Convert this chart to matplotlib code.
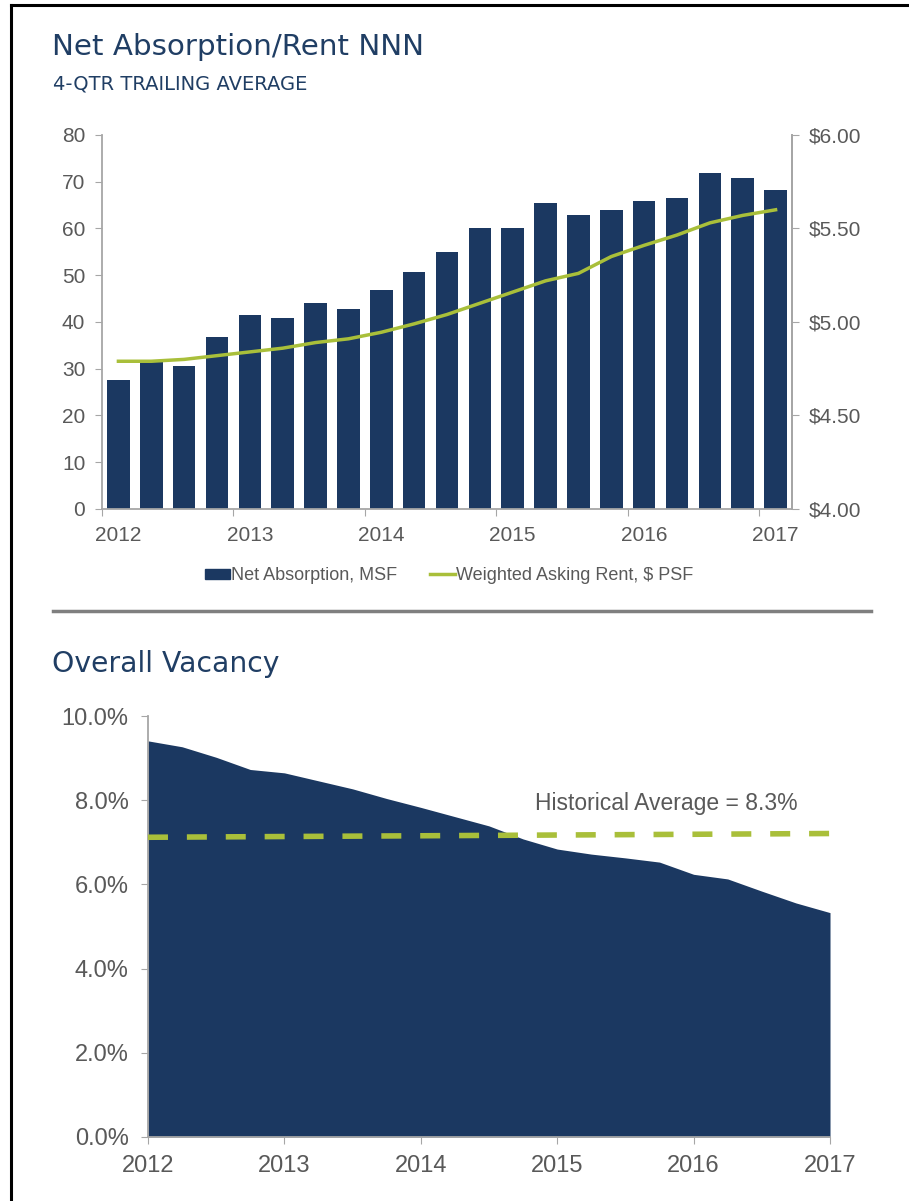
import matplotlib.pyplot as plt
import numpy as np
from matplotlib.patches import Patch
from matplotlib.lines import Line2D

# Net absorption (MSF, 4-qtr trailing avg), quarterly 2012Q1 - 2017Q1
absorption = [27.6, 31.7, 30.6, 36.7, 41.5, 40.9, 44.1, 42.7, 46.8, 50.7, 55.0,
              60.0, 60.2, 65.5, 62.9, 64.0, 65.9, 66.5, 71.8, 70.7, 68.3]
# Weighted asking rent, $ PSF
rent = [4.79, 4.79, 4.80, 4.82, 4.84, 4.86, 4.89, 4.91, 4.945, 4.99, 5.04,
        5.10, 5.16, 5.22, 5.26, 5.35, 5.41, 5.465, 5.53, 5.57, 5.60]
years = ['2012', '2013', '2014', '2015', '2016', '2017']

# Overall vacancy (%), quarterly 2012.0 - 2017.0
vac_x = [2012.0, 2012.25, 2012.5, 2012.75, 2013.0, 2013.25, 2013.5, 2013.75,
         2014.0, 2014.25, 2014.5, 2014.75, 2015.0, 2015.25, 2015.5, 2015.75,
         2016.0, 2016.25, 2016.5, 2016.75, 2017.0]
vacancy = [9.41, 9.27, 9.02, 8.73, 8.65, 8.46, 8.27, 8.04, 7.83, 7.61, 7.39,
           7.08, 6.84, 6.72, 6.63, 6.53, 6.24, 6.13, 5.84, 5.56, 5.33]
hist_x = [2012.0, 2017.05]
hist_y = [7.12, 7.21]

navy = '#1b3861'
lime = '#a9bf3a'
gray = '#595959'
spine_c = '#a6a6a6'
title_c = '#203e64'

fig = plt.figure(figsize=(9.09, 12.01), dpi=100)

# frame lines
fig.add_artist(Line2D([0.0121, 0.0121], [0, 0.9958], color='black', lw=2.2))
fig.add_artist(Line2D([0.0121, 1.0], [0.9958, 0.9958], color='black', lw=2.2))
# separator
fig.add_artist(Line2D([0.058, 0.958], [0.4913, 0.4913], color='#7f7f7f', lw=2.5))

fig.text(0.057, 0.961, 'Net Absorption/Rent NNN', fontsize=21.2, color=title_c,
         family='DejaVu Sans', va='center')
fig.text(0.058, 0.930, '4-QTR TRAILING AVERAGE', fontsize=14, color=title_c,
         family='DejaVu Sans', va='center')
fig.text(0.057, 0.447, 'Overall Vacancy', fontsize=20.3, color=title_c,
         family='DejaVu Sans', va='center')

tick_font = 'Liberation Sans'

# ---- top chart
ax = fig.add_axes([0.1122, 0.5762, 0.7591, 0.3114])
idx = np.arange(len(absorption))
ax.bar(idx, absorption, width=0.69, color=navy, zorder=2)
ax.set_xlim(-0.5, len(absorption) - 0.5)
ax.set_ylim(0, 80)
ax.set_yticks(np.arange(0, 81, 10))
ax.set_xticks(np.arange(-0.5, len(absorption), 4))
ax.set_xticklabels([])
ax.set_xticks(np.arange(0, len(absorption), 4), minor=True)
ax.set_xticklabels(years, minor=True)
ax.tick_params(axis='x', which='minor', length=0, pad=12)
ax.tick_params(axis='x', which='major', length=5, color=spine_c)
ax.tick_params(axis='y', length=5, color=spine_c, pad=7)
for lab in ax.get_xticklabels(minor=True) + ax.get_yticklabels():
    lab.set_family(tick_font)
    lab.set_fontsize(15)
    lab.set_color(gray)
ax.spines['top'].set_visible(False)
for s in ['left', 'bottom', 'right']:
    ax.spines[s].set_color(spine_c)
    ax.spines[s].set_linewidth(1.3)

ax2 = ax.twinx()
ax2.plot(idx, rent, color=lime, lw=2.5, zorder=3)
ax2.set_ylim(4.0, 6.0)
ax2.set_yticks(np.arange(4.0, 6.01, 0.5))
ax2.set_yticklabels(['$%.2f' % v for v in np.arange(4.0, 6.01, 0.5)])
ax2.tick_params(axis='y', length=5, color=spine_c, pad=7)
for lab in ax2.get_yticklabels():
    lab.set_family(tick_font)
    lab.set_fontsize(15)
    lab.set_color(gray)
for s in ['top', 'left', 'bottom']:
    ax2.spines[s].set_visible(False)
ax2.spines['right'].set_color(spine_c)
ax2.spines['right'].set_linewidth(1.3)

handles = [Patch(color=navy), Line2D([], [], color=lime, lw=2.5)]
leg = fig.legend(handles, ['Net Absorption, MSF', 'Weighted Asking Rent, $ PSF'],
                 loc='center', bbox_to_anchor=(0.494, 0.5205), ncol=2,
                 frameon=False, handlelength=1.4, handleheight=0.55,
                 handletextpad=0.05, columnspacing=1.8,
                 prop={'family': tick_font, 'size': 13})
for t in leg.get_texts():
    t.set_color(gray)

# ---- bottom chart
bx = fig.add_axes([0.1628, 0.0533, 0.7503, 0.3505])
bx.fill_between(vac_x, vacancy, 0, color=navy, lw=0, zorder=2)
bx.plot(hist_x, hist_y, color=lime, lw=4, dashes=(3.6, 3.4), zorder=3, clip_on=False)
bx.text(2015.8, 7.93, 'Historical Average = 8.3%', fontsize=16.5, color=gray,
        family=tick_font, ha='center', va='center')
bx.set_xlim(2012, 2017)
bx.set_ylim(0, 10)
bx.set_xticks(np.arange(2012, 2018, 1))
bx.set_xticklabels(years)
bx.set_yticks(np.arange(0, 10.1, 2))
bx.set_yticklabels(['%.1f%%' % v for v in np.arange(0, 10.1, 2)])
bx.tick_params(axis='x', length=5, color=spine_c, pad=8)
bx.tick_params(axis='y', length=5, color=spine_c, pad=9)
for lab in bx.get_xticklabels() + bx.get_yticklabels():
    lab.set_family(tick_font)
    lab.set_fontsize(17)
    lab.set_color(gray)
for s in ['top', 'right']:
    bx.spines[s].set_visible(False)
for s in ['left', 'bottom']:
    bx.spines[s].set_color(spine_c)
    bx.spines[s].set_linewidth(1.3)

fig.savefig('out.png', dpi=100)
